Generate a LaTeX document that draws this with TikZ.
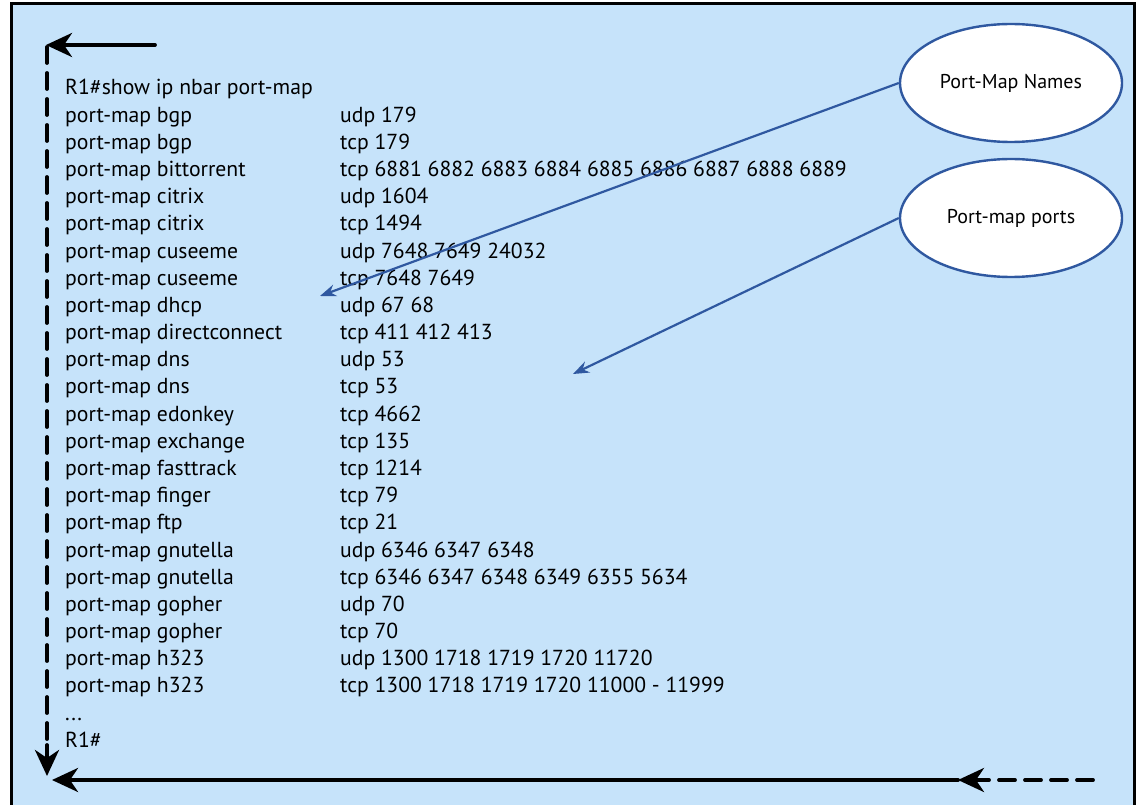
\documentclass[tikz,border=0pt]{standalone}
\usepackage{fontspec}
\setmainfont{PT Sans}
\usetikzlibrary{arrows.meta,shapes.geometric}
\definecolor{bgblue}{RGB}{198,227,250}
\definecolor{linkblue}{RGB}{47,88,160}
\tikzset{
  line/.style={anchor=base west,inner sep=0pt,font=\fontsize{21.7}{26}\selectfont},
  bubble/.style={ellipse,draw=linkblue,line width=2.4pt,fill=white,minimum width=222pt,minimum height=118pt,font=\fontsize{20}{24}\selectfont},
  pointer/.style={draw=linkblue,line width=2.2pt,-{Stealth[length=16pt,width=12pt]}},
  flow/.style={line width=3.8pt,line cap=round,-{Stealth[length=26pt,width=24pt,inset=8pt]}},
  flowdash/.style={line width=3.8pt,line cap=round,dash pattern=on 16pt off 10pt}
}
\begin{document}
\begin{tikzpicture}[x=1pt,y=-1pt]
\useasboundingbox (0,0) rectangle (1141,805);
\begin{scope}
\clip (0,0) rectangle (1141,805);
\draw[fill=bgblue,line width=3pt] (11,4) rectangle (1134,812);
\end{scope}
% text
\def\lh{27.18}
\node[line] (t0) at (65,95) {R1\#show ip nbar port-map};
\foreach \i/\n/\p in {1/bgp/udp 179,2/bgp/tcp 179,3/bittorrent/tcp 6881 6882 6883 6884 6885 6886 6887 6888 6889,4/citrix/udp 1604,5/citrix/tcp 1494,6/cuseeme/udp 7648 7649 24032,7/cuseeme/tcp 7648 7649,8/dhcp/udp 67 68,9/directconnect/tcp 411 412 413,10/dns/udp 53,11/dns/tcp 53,12/edonkey/tcp 4662,13/exchange/tcp 135,14/fasttrack/tcp 1214,15/finger/tcp 79,16/ftp/tcp 21,17/gnutella/udp 6346 6347 6348,18/gnutella/tcp 6346 6347 6348 6349 6355 5634,19/gopher/udp 70,20/gopher/tcp 70,21/h323/udp 1300 1718 1719 1720 11720,22/h323/tcp 1300 1718 1719 1720 11000 - 11999}{
  \node[line] (n\i) at (65,95+\i*\lh) {port-map \n};
  \node[line] (p\i) at (340,95+\i*\lh) {\p};
}
\node[line] (dots) at (65,95+23*\lh) {...};
\node[line] (t24) at (65,95+24*\lh) {R1\#};
% bubbles
\node[bubble] (names) at (1011,83) {Port-Map Names};
\node[bubble] (ports) at (1011,218) {Port-map ports};
\coordinate (nameend) at (320,296);
\coordinate (portend) at (573,374);
\draw[pointer] (names.west) -- (nameend);
\draw[pointer] (ports.west) -- (portend);
% black flow arrows
\coordinate (a1) at (155,45);
\coordinate (a2) at (46,45);
\coordinate (v1) at (47,47);
\coordinate (v2) at (47,776);
\coordinate (b1) at (1093,780);
\coordinate (b2) at (958,780);
\coordinate (b3) at (52,780);
\draw[flow] (a1) -- (a2);
\draw[flowdash] (v1) -- (47,745);
\draw[flow] (47,745) -- (v2);
\draw[flowdash] (b1) -- (975,780);
\draw[flow] (975,780) -- (b2);
\draw[flow] (b2) -- (b3);
\end{tikzpicture}
\end{document}
